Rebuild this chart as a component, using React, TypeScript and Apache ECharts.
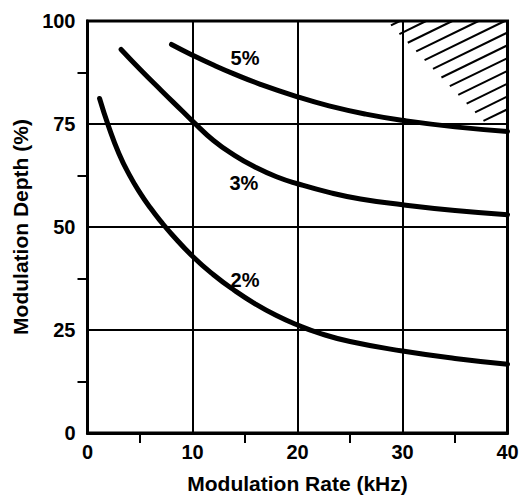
import React, { useEffect, useRef } from "react";
import * as echarts from "echarts";

const xTitle = "Modulation Rate (kHz)";
const yTitle = "Modulation Depth (%)";

const rate5 = [8, 10, 12, 14, 16.4, 20, 23, 26.5, 30, 35, 40];
const depth5 = [94.3, 91.7, 89.3, 87.1, 84.7, 81.6, 79.4, 77.4, 75.9, 74.3, 73.2];

const rate3 = [3.2, 5, 7, 9, 10, 12, 14, 16, 18, 20, 23, 26, 30, 35, 40];
const depth3 = [93.1, 88.3, 83.2, 78.2, 75.7, 71, 67.4, 64.5, 62.2, 60.5, 58.4, 56.8, 55.4, 54, 53];

const rate2 = [1.15, 2, 3, 4, 5, 6, 7, 8, 10, 12, 14, 16, 18, 20, 22, 25, 30, 35, 40];
const depth2 = [81.2, 74.5, 67.8, 62.6, 58.3, 54.6, 51.3, 48.3, 42.9, 38.4, 34.6, 31.3, 28.5, 26.2, 24.3, 22.2, 19.9, 18.1, 16.7];

const curveNames = ["5%", "3%", "2%"];
const labelRate = [15, 14.9, 15];
const labelDepth = [91, 60.8, 37.1];

const hatchRate = [28.5, 40, 40, 37.8];
const hatchDepth = [100, 100, 75.5, 75.5];

const FONT = "'Liberation Sans', Arial, sans-serif";

function zip(xs: number[], ys: number[]) {
  return xs.map((x, i) => [x, ys[i]]);
}

export default function App() {
  const ref = useRef<HTMLDivElement>(null);
  useEffect(() => {
    if (!ref.current) return;
    const chart = echarts.init(ref.current, undefined, { renderer: "svg" });

    const lineSeries = (data: number[][]) => ({
      type: "line",
      data,
      smooth: 0.5,
      showSymbol: false,
      symbol: "none",
      lineStyle: { color: "#000", width: 5, cap: "round", join: "round" },
      z: 5,
    });

    const hatchRender = (params: any, api: any) => {
      const poly = hatchRate.map((x, i) => api.coord([x, hatchDepth[i]]));
      const th = (26 * Math.PI) / 180;
      const n = [Math.sin(th), Math.cos(th)];
      const proj = poly.map((p: number[]) => n[0] * p[0] + n[1] * p[1]);
      const cmin = Math.min(...proj);
      const cmax = Math.max(...proj);
      const children: any[] = [];
      const step = 11.5;
      for (let c = cmin + step * 0.5; c < cmax; c += step) {
        const pts: number[][] = [];
        for (let i = 0; i < poly.length; i++) {
          const a = poly[i];
          const b = poly[(i + 1) % poly.length];
          const da = n[0] * a[0] + n[1] * a[1] - c;
          const db = n[0] * b[0] + n[1] * b[1] - c;
          if ((da <= 0 && db > 0) || (da > 0 && db <= 0)) {
            const t = da / (da - db);
            pts.push([a[0] + (b[0] - a[0]) * t, a[1] + (b[1] - a[1]) * t]);
          }
        }
        if (pts.length >= 2) {
          children.push({
            type: "line",
            shape: { x1: pts[0][0], y1: pts[0][1], x2: pts[1][0], y2: pts[1][1] },
            style: { stroke: "#000", lineWidth: 2 },
          });
        }
      }
      return { type: "group", children };
    };

    chart.setOption({
      animation: false,
      backgroundColor: "#fff",
      grid: {
        left: 87.5,
        right: 14.5,
        top: 21,
        bottom: 67,
        show: true,
        borderColor: "#000",
        borderWidth: 3,
        containLabel: false,
      },
      xAxis: {
        type: "value",
        min: 0,
        max: 40,
        interval: 10,
        name: xTitle,
        nameLocation: "middle",
        nameGap: 40,
        nameTextStyle: { color: "#000", fontFamily: FONT, fontWeight: "bold", fontSize: 21 },
        axisLine: { show: true, lineStyle: { color: "#000", width: 3 } },
        axisTick: { show: false },
        minorTick: { show: true, splitNumber: 2, length: 10, lineStyle: { color: "#000", width: 2 } },
        axisLabel: { color: "#000", fontFamily: FONT, fontWeight: "bold", fontSize: 20, margin: 9 },
        splitLine: { show: true, lineStyle: { color: "#000", width: 2 } },
      },
      yAxis: {
        type: "value",
        min: 0,
        max: 100,
        interval: 25,
        name: yTitle,
        nameLocation: "middle",
        nameGap: 56,
        nameTextStyle: { color: "#000", fontFamily: FONT, fontWeight: "bold", fontSize: 21 },
        axisLine: { show: true, lineStyle: { color: "#000", width: 3 } },
        axisTick: { show: false },
        minorTick: { show: true, splitNumber: 2, length: 10, lineStyle: { color: "#000", width: 2 } },
        axisLabel: { color: "#000", fontFamily: FONT, fontWeight: "bold", fontSize: 20, margin: 12 },
        splitLine: { show: true, lineStyle: { color: "#000", width: 2 } },
      },
      series: [
        lineSeries(zip(rate5, depth5)),
        lineSeries(zip(rate3, depth3)),
        lineSeries(zip(rate2, depth2)),
        {
          type: "custom",
          coordinateSystem: "cartesian2d",
          renderItem: hatchRender,
          data: [[hatchRate[0], hatchDepth[0]]],
          silent: true,
          z: 4,
        },
        {
          type: "scatter",
          data: labelRate.map((x, i) => ({ value: [x, labelDepth[i]], name: curveNames[i] })),
          symbolSize: 0,
          itemStyle: { opacity: 1, color: "#000" },
          label: {
            show: true,
            position: "inside",
            formatter: (p: any) => p.name,
            color: "#000",
            opacity: 1,
            fontFamily: FONT,
            fontWeight: "bold",
            fontSize: 20,
          },
          z: 6,
        },
      ],
    });
    return () => chart.dispose();
  }, []);
  return <div ref={ref} style={{ position: "fixed", left: 0, top: 0, width: 522, height: 500 }} />;
}
